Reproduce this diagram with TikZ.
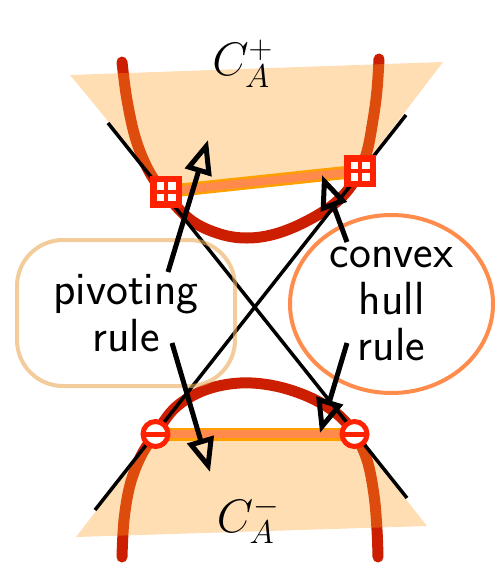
\RequirePackage{fix-cm}
\documentclass[tikz,border=0pt]{standalone}
\usetikzlibrary{arrows.meta,shapes.geometric}
\definecolor{curvered}{RGB}{204,30,0}
\definecolor{peach}{RGB}{255,160,40}
\definecolor{markred}{RGB}{255,34,0}
\definecolor{bandout}{RGB}{255,160,0}
\definecolor{bandin}{RGB}{255,138,76}
\definecolor{hullcol}{RGB}{255,140,76}
\definecolor{pivcol}{RGB}{235,170,90}
\begin{document}
\begin{tikzpicture}[x=1pt,y=-1pt,
  redcurve/.style={line width=11pt, line cap=round, curvered},
  cone/.style={fill=peach, fill opacity=0.35},
  xline/.style={line width=3.5pt, black},
  bandline/.style={line width=13pt, bandout},
  bandinner/.style={line width=8pt, bandin},
  sqmark/.style={rectangle, fill=markred, minimum size=32pt, inner sep=0pt,
    path picture={
      \fill[white] ([shift={(2pt,2pt)}]path picture bounding box.center) rectangle ++(7.5pt,7.5pt);
      \fill[white] ([shift={(-9.5pt,2pt)}]path picture bounding box.center) rectangle ++(7.5pt,7.5pt);
      \fill[white] ([shift={(2pt,-9.5pt)}]path picture bounding box.center) rectangle ++(7.5pt,7.5pt);
      \fill[white] ([shift={(-9.5pt,-9.5pt)}]path picture bounding box.center) rectangle ++(7.5pt,7.5pt);
    }},
  circmark/.style={circle, draw=markred, line width=5pt, fill=white, minimum size=25pt, inner sep=0pt,
    path picture={\fill[markred] ([shift={(-15pt,-2.5pt)}]path picture bounding box.center) rectangle ([shift={(15pt,2.5pt)}]path picture bounding box.center);}},
  lbl/.style={font=\fontsize{46.5}{46.5}\selectfont\sffamily, align=center},
  arr/.style={line width=5pt, -{Triangle[open, length=34pt, width=27pt]}},
  mathlbl/.style={font=\fontsize{47}{56}\selectfont, inner sep=0pt}
]
\useasboundingbox (0,0) rectangle (498,587);

% marker positions
\coordinate (sqL) at (166,191.5);
\coordinate (sqR) at (360,171);
\coordinate (ciL) at (155.5,434);
\coordinate (ciR) at (354.5,434);

% red curves
\draw[redcurve] plot[smooth, tension=0.6] coordinates {(122,62) (127,100) (136,140) (150,173) (168,197) (192,221) (220,234) (247,238) (275,234) (305,222) (334,204) (353,183) (366,155) (373,120) (377,90) (379,59)};
\draw[redcurve] plot[smooth, tension=0.6] coordinates {(122,557) (124,520) (130,485) (141,456) (156,433) (176,407) (205,390) (240,383) (275,386) (309,397) (336,413) (354,433) (367,460) (374,495) (377,530) (378,557)};

% cones
\fill[cone] (70,75) -- (443,62) -- (sqR) -- (sqL) -- cycle;
\fill[cone] (76,537) -- (ciL) -- (ciR) -- (427,526) -- cycle;

% black lines
\coordinate (xa1) at (108,123);
\coordinate (xa2) at (407,498);
\coordinate (xb1) at (406,115);
\coordinate (xb2) at (95,510);
\draw[xline] (xa1) -- (xa2);
\draw[xline] (xb1) -- (xb2);

% bands
\draw[bandline] (sqL) -- (sqR);
\draw[bandinner] (sqL) -- (sqR);
\draw[bandline] (ciL) -- (ciR);
\draw[bandinner] (ciL) -- (ciR);

% markers
\node[sqmark] (mL) at (sqL) {};
\node[sqmark] (mR) at (sqR) {};
\node[circmark] (cL) at (ciL) {};
\node[circmark] (cR) at (ciR) {};

% rule boxes
\node[draw=pivcol, draw opacity=0.6, line width=4pt, rounded corners=46pt,
      minimum width=218pt, minimum height=146pt, inner sep=0pt, lbl] (piv) at (126,313) {pivoting\\rule};
\node[ellipse, draw=hullcol, line width=4pt, minimum width=203pt, minimum height=178pt,
      inner sep=0pt, lbl] (hull) at (391.5,304) {convex\\hull\\rule};

% labels
\node[mathlbl] (cp) at (242.5,64) {$C_A^+$};
\node[mathlbl] (cm) at (248,520) {$C_A^-$};

% arrows
\coordinate (p1) at (168,272);
\coordinate (t1) at (208,140);
\coordinate (p2) at (172,343);
\coordinate (t2) at (210,472);
\coordinate (h1) at (347,242);
\coordinate (t3) at (322,175);
\coordinate (h2) at (347,343);
\coordinate (t4) at (320,433);
\draw[arr] (p1) -- (t1);
\draw[arr] (p2) -- (t2);
\draw[arr] (h1) -- (t3);
\draw[arr] (h2) -- (t4);
\end{tikzpicture}
\end{document}
